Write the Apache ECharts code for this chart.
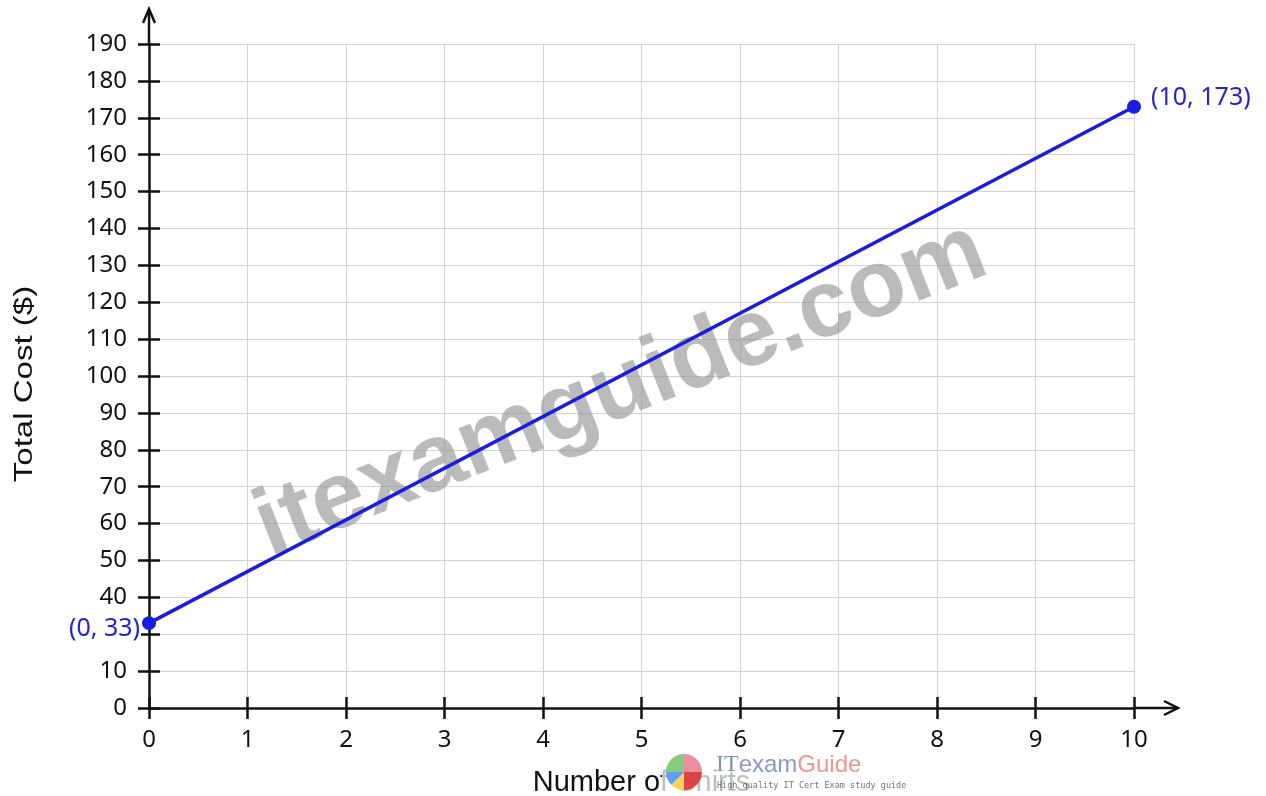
<!DOCTYPE html>
<html>
<head>
<meta charset="utf-8">
<script src="https://cdn.jsdelivr.net/npm/echarts@6/dist/echarts.min.js"></script>
<style>
html,body{margin:0;padding:0;background:#fff;}
#chart{width:1266px;height:796px;}
</style>
</head>
<body>
<div id="chart"></div>
<script>
// ---- data ----
const xValues = [0, 10];
const costValues = [33, 173];
const xTickLabels = ['0','1','2','3','4','5','6','7','8','9','10'];
// y tick labels exactly as printed on the reference axis (its 20 is missing)
const yTickValues = [0, 10, 30, 40, 50, 60, 70, 80, 90, 100, 110, 120, 130, 140, 150, 160, 170, 180, 190];
const xAxisTitle = 'Number of Shirts';
const yAxisTitle = 'Total Cost ($)';

// map a cost value onto the reference's (evenly spaced) tick positions
function toAxisPos(v) {
  for (let i = 0; i < yTickValues.length - 1; i++) {
    const a = yTickValues[i], b = yTickValues[i + 1];
    if (v >= a && v <= b) return i + (v - a) / (b - a);
  }
  return yTickValues.length - 1;
}

const chart = echarts.init(document.getElementById('chart'));
const axisColor = '#111';
const tickFont = { fontFamily: 'Noto Sans', fontSize: 24, color: '#111' };
const labelBlue = '#2626c4';

const option = {
  animation: false,
  backgroundColor: '#fff',
  grid: { left: 149, right: 132, top: 44, bottom: 88, containLabel: false, outerBoundsMode: 'none' },
  xAxis: [
    {
      type: 'value', min: 0, max: xTickLabels.length - 1, interval: 1,
      name: xAxisTitle, nameLocation: 'middle', nameGap: 60,
      nameTextStyle: { fontFamily: 'Liberation Sans', fontSize: 29, color: '#111' },
      axisLine: { show: true, onZero: false, lineStyle: { color: axisColor, width: 2.5 } },
      axisTick: { show: true, length: 11, lineStyle: { color: axisColor, width: 2.5 } },
      axisLabel: Object.assign({ margin: 20, formatter: v => xTickLabels[Math.round(v)] }, tickFont),
      splitLine: { show: true, lineStyle: { color: '#d2d2d2', width: 1 } }
    },
    {
      type: 'value', min: 0, max: xTickLabels.length - 1, interval: 1, position: 'bottom',
      axisLine: { show: false },
      axisTick: { show: true, inside: true, length: 11, lineStyle: { color: axisColor, width: 2.5 } },
      axisLabel: { show: false }, splitLine: { show: false }
    }
  ],
  yAxis: [
    {
      type: 'value', min: 0, max: yTickValues.length - 1, interval: 1,
      axisLine: { show: true, onZero: false, lineStyle: { color: axisColor, width: 2.5 } },
      axisTick: { show: true, length: 11, lineStyle: { color: axisColor, width: 2.5 } },
      axisLabel: Object.assign({ margin: 22, formatter: v => String(yTickValues[Math.round(v)]) }, tickFont),
      splitLine: { show: true, lineStyle: { color: '#d2d2d2', width: 1 } }
    },
    {
      type: 'value', min: 0, max: yTickValues.length - 1, interval: 1, position: 'left',
      axisLine: { show: false },
      axisTick: { show: true, inside: true, length: 11, lineStyle: { color: axisColor, width: 2.5 } },
      axisLabel: { show: false }, splitLine: { show: false }
    }
  ],
  series: [{
    type: 'line',
    xAxisIndex: 0, yAxisIndex: 0,
    data: xValues.map((x, i) => ({
      value: [x, toAxisPos(costValues[i])],
      label: i === 0
        ? { position: 'left', distance: 1, offset: [0, 6] }
        : { position: 'right', distance: 9, offset: [0, -9] }
    })),
    symbol: 'circle', symbolSize: 14,
    lineStyle: { color: '#1c1ce0', width: 3.5 },
    itemStyle: { color: '#1c1ce0' },
    label: {
      show: true,
      formatter: p => '(' + xValues[p.dataIndex] + ', ' + costValues[p.dataIndex] + ')',
      fontFamily: 'Noto Sans', fontSize: 25, color: labelBlue,
      backgroundColor: '#fff', padding: [0, 1]
    },
    z: 5
  }]
};
chart.setOption(option);

// axis extensions with open arrowheads
const origin = chart.convertToPixel({ xAxisIndex: 0, yAxisIndex: 0 }, [0, 0]);
const topPt = chart.convertToPixel({ xAxisIndex: 0, yAxisIndex: 0 }, [0, yTickValues.length - 1]);
const rightPt = chart.convertToPixel({ xAxisIndex: 0, yAxisIndex: 0 }, [xTickLabels.length - 1, 0]);
const arrowStyle = { stroke: axisColor, lineWidth: 2.5, fill: null };
const yTip = topPt[1] - 35, xTip = rightPt[0] + 44;
const midY = (origin[1] + topPt[1]) / 2;

chart.setOption({
  graphic: [
    { type: 'polyline', shape: { points: [[origin[0], topPt[1]], [origin[0], yTip]] }, style: arrowStyle, z: 10 },
    { type: 'polyline', shape: { points: [[origin[0] - 6, yTip + 14], [origin[0], yTip], [origin[0] + 6, yTip + 14]] }, style: arrowStyle, z: 10 },
    { type: 'polyline', shape: { points: [[rightPt[0], origin[1]], [xTip, origin[1]]] }, style: arrowStyle, z: 10 },
    { type: 'polyline', shape: { points: [[xTip - 14, origin[1] - 7], [xTip, origin[1]], [xTip - 14, origin[1] + 7]] }, style: arrowStyle, z: 10 },
    // y axis title (the reference's lettering is tall and narrow)
    {
      type: 'text', x: 25, y: midY + 8, rotation: Math.PI / 2, scaleX: 1.27, scaleY: 1, z: 10,
      style: { text: yAxisTitle, fontFamily: 'Liberation Sans', fontSize: 26, fill: '#111', align: 'center', verticalAlign: 'middle' }
    },
    // watermark (between the grid and the line)
    {
      type: 'text', x: 621, y: 390, rotation: 21.5 * Math.PI / 180, z: 1,
      style: {
        text: 'itexamguide.com', fontFamily: 'Liberation Sans', fontWeight: 'bold', fontSize: 95,
        fill: 'rgba(150,150,150,0.65)', align: 'center', verticalAlign: 'middle'
      }
    },
    // logo
    { type: 'rect', shape: { x: 662, y: 748, width: 240, height: 48 }, style: { fill: 'rgba(255,255,255,0.72)' }, z: 49 },
    { type: 'sector', shape: { cx: 684, cy: 772, r: 18, startAngle: -Math.PI, endAngle: -Math.PI * 0.5 }, style: { fill: 'rgba(120,200,110,0.9)' }, z: 50 },
    { type: 'sector', shape: { cx: 684, cy: 772, r: 18, startAngle: -Math.PI * 0.5, endAngle: 0 }, style: { fill: 'rgba(235,130,150,0.9)' }, z: 50 },
    { type: 'sector', shape: { cx: 684, cy: 772, r: 18, startAngle: 0, endAngle: Math.PI * 0.5 }, style: { fill: 'rgba(215,50,50,0.9)' }, z: 50 },
    { type: 'sector', shape: { cx: 684, cy: 772, r: 18, startAngle: Math.PI * 0.5, endAngle: Math.PI * 0.75 }, style: { fill: 'rgba(250,205,80,0.9)' }, z: 50 },
    { type: 'sector', shape: { cx: 684, cy: 772, r: 18, startAngle: Math.PI * 0.75, endAngle: Math.PI }, style: { fill: 'rgba(80,150,235,0.9)' }, z: 50 },
    {
      type: 'text', x: 716, y: 765, z: 50,
      style: {
        text: '{a|IT}{b|exam}{c|Guide}', verticalAlign: 'middle',
        rich: {
          a: { fontFamily: 'Liberation Serif', fontSize: 24, fill: '#8893a0' },
          b: { fontFamily: 'Liberation Sans', fontSize: 24, fill: '#8c98c4' },
          c: { fontFamily: 'Liberation Sans', fontSize: 24, fill: '#ee968e' }
        }
      }
    },
    {
      type: 'text', x: 717, y: 786, z: 50,
      style: { text: 'High quality IT Cert Exam study guide', fontFamily: 'DejaVu Sans Mono', fontSize: 8.5, fill: 'rgba(90,90,90,0.85)', verticalAlign: 'middle' }
    }
  ]
});
</script>
</body>
</html>
